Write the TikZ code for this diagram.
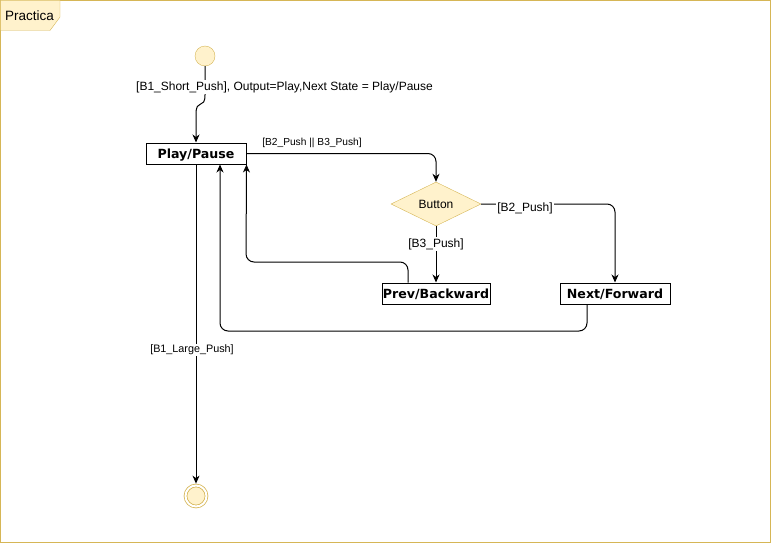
\documentclass[tikz,border=0pt]{standalone}
\usepackage{fontspec}
\setmainfont{Liberation Sans}
\newfontfamily\statefont{DejaVu Sans}
\usepackage{tikz}
\usetikzlibrary{shapes.geometric,arrows.meta}
\definecolor{noteyellow}{HTML}{FFF2CC}
\definecolor{noteline}{HTML}{D6B656}
\tikzstyle{cn}=[shape=circle,draw=noteline,fill=noteyellow,minimum size=20pt,inner sep=0pt]
\tikzstyle{fin}=[shape=circle,draw=noteline,fill=noteyellow,minimum size=21pt,inner sep=0pt,line width=0.8pt,double=white,double distance=2pt]
\tikzstyle{sbox}=[draw,line width=1pt,minimum height=21pt,inner sep=0pt,text depth=0pt,font=\statefont\bfseries\fontsize{12.6}{14}\selectfont]
\tikzstyle{choice}=[shape=diamond,draw=noteline,fill=noteyellow,minimum width=90pt,minimum height=44pt,inner sep=0pt,font=\fontsize{12}{14}\selectfont]
\tikzstyle{to}=[-{Stealth[length=8pt,width=7pt,inset=2.5pt]},line width=1pt,rounded corners=8pt]
\tikzstyle{lbl}=[fill=white,inner sep=1pt,font=\fontsize{12}{14}\selectfont]

\begin{document}
\begin{tikzpicture}[x=1pt,y=-1pt]
        \useasboundingbox (0,0) rectangle (771,543);
        \draw[noteline] (0.5,0.5) rectangle (770.5,542.5);
        \draw[noteline,fill=noteyellow] (0.5,0.5) -- (60,0.5) -- (60,17) -- (50,30.5) -- (0.5,30.5) -- cycle;
        \node[font=\fontsize{13.5}{15}\selectfont] (tab) at (29.5,15.5) {Practica};

        \node[cn] (start) at (205,56) {};
        \node[sbox,minimum width=100pt] (play) at (196,153.5) {Play/Pause};
        \node[choice] (button) at (436,204) {Button};
        \node[sbox,minimum width=108pt] (prev) at (436,293.5) {Prev/Backward};
        \node[sbox,minimum width=110pt] (next) at (615,293.5) {Next/Forward};
        \node[fin] (stop) at (196,496) {};

        \coordinate (jog) at (196,114);
        \coordinate (backturn) at (246,262);
        \coordinate (fwdturn) at (220,331);

        \draw[to,sharp corners] (start) -- (205,95) .. controls (205,110) and (196,98) .. (jog) -- (play);
        \node[lbl] (l1) at (284.5,87) {[B1\_Short\_Push], Output=Play,Next State = Play/Pause};

        \draw[to] (play.east) -| (button.north);
        \node[inner sep=1pt,font=\fontsize{10.2}{12}\selectfont] (l2) at (312,143) {[B2\_Push || B3\_Push]};

        \draw[to] (button.south) -- (prev.north);
        \node[lbl] (l3) at (436,244) {[B3\_Push]};

        \draw[to] (button.east) -| (next.north);
        \node[lbl] (l4) at (525,208) {[B2\_Push]};

        \draw[to] ([xshift=-28pt]prev.north) |- (backturn) -- (play.south east);
        \draw[to] ([xshift=-28pt]next.south) |- (fwdturn) -- ([xshift=24pt]play.south);

        \draw[to,shorten >=1.5pt] (play.south) -- (stop.north);
        \node[lbl,font=\fontsize{10.8}{13}\selectfont] (l5) at (192,350) {[B1\_Large\_Push]};
    \end{tikzpicture}
\end{document}
